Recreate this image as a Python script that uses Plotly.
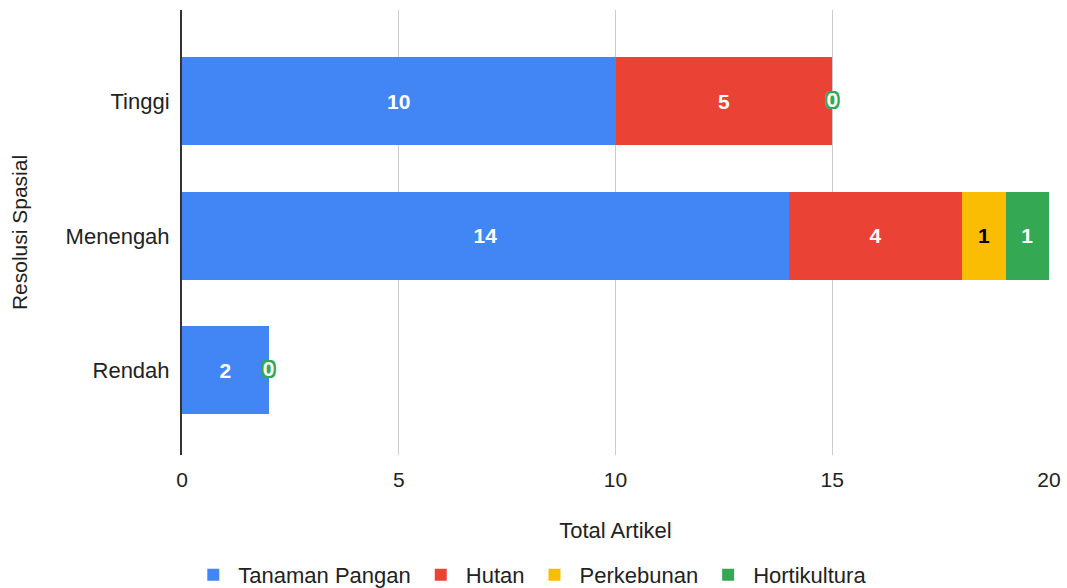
import plotly.graph_objects as go

# data
categories = ["Tinggi", "Menengah", "Rendah"]
series_names = ["Tanaman Pangan", "Hutan", "Perkebunan", "Hortikultura"]
tanaman_pangan = [10, 14, 2]
hutan = [5, 4, 0]
perkebunan = [0, 1, 0]
hortikultura = [0, 1, 0]
x_ticks = [0, 5, 10, 15, 20]

BLUE, RED, YELLOW, GREEN = "#4285F4", "#EA4335", "#FBBC04", "#34A853"
FONT = "Liberation Sans, Arial, sans-serif"

fig = go.Figure()
for name, vals, color, txtcol in [
    (series_names[0], tanaman_pangan, BLUE, "white"),
    (series_names[1], hutan, RED, "white"),
    (series_names[2], perkebunan, YELLOW, "black"),
    (series_names[3], hortikultura, GREEN, "white"),
]:
    fig.add_trace(go.Bar(
        name=name, y=categories, x=vals, orientation="h",
        marker=dict(color=color, line=dict(width=0)),
        text=[str(v) if v else "" for v in vals],
        textposition="inside", insidetextanchor="middle",
        textfont=dict(family=FONT, size=21, color=txtcol, weight="bold"),
        constraintext="none",
    ))

# "0" label for empty last series, sitting at the end of the stack
totals = [a + b + c for a, b, c in zip(tanaman_pangan, hutan, perkebunan)]
zero_idx = [i for i, v in enumerate(hortikultura) if v == 0]
outline = ", ".join(f"{dx}px {dy}px 0 {GREEN}" for dx in (-2, -1, 0, 1, 2)
                    for dy in (-2, -1, 0, 1, 2) if dx or dy)
fig.add_trace(go.Scatter(
    x=[totals[i] for i in zero_idx], y=[categories[i] for i in zero_idx],
    text=[str(hortikultura[i]) for i in zero_idx], mode="text",
    textposition="middle center", showlegend=False, hoverinfo="skip",
    textfont=dict(family=FONT, size=21, color="white", weight="bold", shadow=outline),
))

fig.update_layout(
    barmode="stack", bargap=0.346,
    width=1067, height=588,
    margin=dict(l=182, r=18, t=10, b=133),
    paper_bgcolor="white", plot_bgcolor="white",
    font=dict(family=FONT, size=22, color="#222222"),
    legend=dict(orientation="h", xref="container", yref="container",
                x=0.497, xanchor="center", y=0.022, yanchor="middle",
                itemwidth=40, font=dict(size=22, color="#222222"),
                traceorder="normal"),
)
fig.update_xaxes(
    range=[0, 20], tickvals=x_ticks, showgrid=True, gridcolor="#CCCCCC",
    gridwidth=1, zeroline=False, ticks="", tickfont=dict(size=21),
    ticklabelstandoff=10, automargin=False,
    title=dict(text="Total Artikel", font=dict(size=22), standoff=32),
)
fig.update_yaxes(
    range=[2.63, -0.68], showgrid=False, showline=True, linecolor="#333333",
    linewidth=2, ticks="", ticklabelstandoff=6, tickfont=dict(size=22),
    automargin=False,
    title=dict(text="Resolusi Spasial", font=dict(size=21), standoff=32),
)

fig.write_html("out.html", config={"displayModeBar": False},
               post_script="document.body.style.margin='0';")
